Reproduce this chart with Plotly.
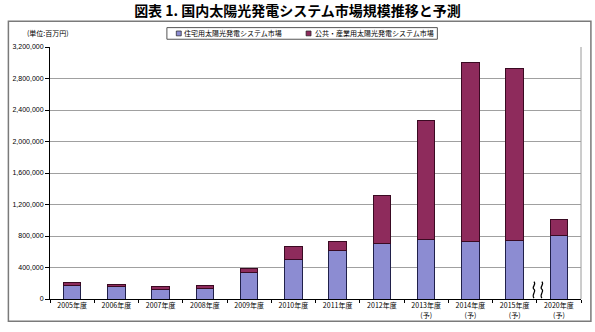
import plotly.graph_objects as go

categories = ["2005年度", "2006年度", "2007年度", "2008年度", "2009年度", "2010年度",
              "2011年度", "2012年度", "2013年度<br>(予)", "2014年度<br>(予)",
              "2015年度<br>(予)", "2020年度<br>(予)"]
residential = [172000, 156000, 127000, 131000, 341000, 505000,
               619000, 705000, 751000, 730000, 742000, 804000]
public_industrial = [42000, 34000, 33000, 41000, 49000, 156000,
                     111000, 612000, 1517000, 2277000, 2187000, 201000]
series_names = ["住宅用太陽光発電システム市場", "公共・産業用太陽光発電システム市場"]
series_colors = ["#8C8CD2", "#8E2B5C"]
y_ticks = [0, 400000, 800000, 1200000, 1600000, 2000000, 2400000, 2800000, 3200000]

FONT = "Liberation Sans, Noto Sans CJK JP, sans-serif"
CJK = "Noto Sans CJK JP, sans-serif"

fig = go.Figure()
fig.add_trace(go.Bar(
    x=categories, y=residential, name=series_names[0],
    marker=dict(color=series_colors[0], line=dict(color="#20204A", width=1)),
    width=0.4,
))
fig.add_trace(go.Bar(
    x=categories, y=public_industrial, name=series_names[1],
    marker=dict(color=series_colors[1], line=dict(color="#3A0A22", width=1)),
    width=0.4,
))

# plot geometry in px: left 45, right 581, top 47, bottom 307
W, H = 595, 332
L, R, T, B = 45, 581, 47, 307
pw, ph = R - L, B - T

def px(xp):
    return (xp - L) / pw

def py(yp):
    return (B - yp) / ph

shapes = []
# outer frame
shapes.append(dict(type="rect", xref="paper", yref="paper",
                   x0=px(3), x1=px(591), y0=py(330), y1=py(20.5),
                   line=dict(color="#7A7A7A", width=1.5), layer="below"))
# plot area right border
shapes.append(dict(type="line", xref="paper", yref="paper",
                   x0=1, x1=1, y0=0, y1=1,
                   line=dict(color="#9A9A9A", width=1), layer="below"))
# legend box
shapes.append(dict(type="rect", xref="paper", yref="paper",
                   x0=px(163), x1=px(436), y0=py(39), y1=py(27),
                   line=dict(color="#555555", width=1), fillcolor="white"))
# legend markers
for xm, col in zip((175, 306), series_colors):
    shapes.append(dict(type="rect", xref="paper", yref="paper",
                       x0=px(xm - 2.5), x1=px(xm + 2.5), y0=py(35.5), y1=py(30.5),
                       line=dict(color="#222222", width=0.7), fillcolor=col))
# break marks (two squiggles)
for xc in (533.5, 541.5):
    x0 = px(xc)
    d = (f"M {x0:.4f},{py(306):.4f} "
         f"C {px(xc-3):.4f},{py(302):.4f} {px(xc+3):.4f},{py(299):.4f} {x0:.4f},{py(297):.4f} "
         f"C {px(xc-3):.4f},{py(295):.4f} {px(xc+3):.4f},{py(292):.4f} {x0:.4f},{py(289):.4f}")
    shapes.append(dict(type="path", xref="paper", yref="paper", path=d,
                       line=dict(color="#000000", width=1.2)))

annotations = [dict(text="(単位:百万円)", xref="paper", yref="paper",
                    x=px(20), y=py(33), xanchor="left", yanchor="middle",
                    showarrow=False, font=dict(family=CJK, size=7))]
for xt, name in zip((178.5, 310), series_names):
    annotations.append(dict(text=name, xref="paper", yref="paper",
                            x=px(xt), y=py(33), xanchor="left", yanchor="middle",
                            showarrow=False, font=dict(family=CJK, size=7)))

fig.update_layout(
    width=W, height=H,
    margin=dict(l=L, r=W - R, t=T, b=H - B, pad=0),
    barmode="stack",
    paper_bgcolor="white", plot_bgcolor="white",
    font=dict(family=FONT, size=7, color="#000000"),
    title=dict(text="<b>図表 1. 国内太陽光発電システム市場規模推移と予測</b>",
               x=0.5, xanchor="center", y=1 - 11 / H, yanchor="middle",
               font=dict(family=CJK, size=14, color="#000000")),
    showlegend=False,
    shapes=shapes,
    annotations=annotations,
    bargap=0.6,
)
fig.update_yaxes(range=[0, 3200000], tickvals=y_ticks, tickformat=",",
                 showgrid=True, gridcolor="#A0A0A0", gridwidth=1,
                 showline=True, linecolor="#000000", linewidth=1,
                 ticks="outside", ticklen=4, tickcolor="#000000",
                 tickfont=dict(family=FONT, size=7), zeroline=False)
fig.update_xaxes(showline=True, linecolor="#000000", linewidth=1,
                 ticks="outside", ticklen=3, tickcolor="#000000",
                 tickson="boundaries", tickangle=0,
                 tickfont=dict(family=CJK, size=7))

fig.write_html("out.html")
